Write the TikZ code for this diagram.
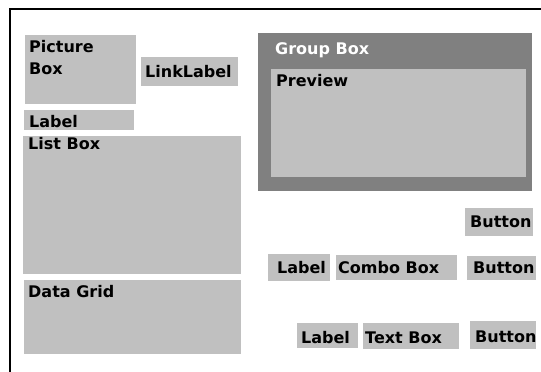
\documentclass[tikz,border=0pt]{standalone}
\usepackage{fontspec}
\setmainfont{DejaVu Sans}
\definecolor{lgray}{HTML}{C0C0C0}
\definecolor{dgray}{HTML}{808080}
\begin{document}
\begin{tikzpicture}[x=1pt,y=-1pt,
  ctl/.style={fill=lgray,draw=none,inner sep=0pt,outer sep=0pt,anchor=north west},
  grp/.style={fill=dgray,draw=none,inner sep=0pt,outer sep=0pt,anchor=north west},
  txt/.style={inner sep=0pt,anchor=base west,font=\fontsize{16}{21}\selectfont\bfseries,align=left},
  wtxt/.style={txt,text=white}]
\useasboundingbox (0,0) rectangle (541,372);
\fill[white] (0,0) rectangle (541,372);
\draw[line width=2pt] (10,372) -- (10,9) -- (541,9);
% left column
\node[ctl,minimum width=111pt,minimum height=69pt] (picbox) at (25,35) {};
\node[txt] (picboxt) at (29,74) {Picture\\Box};
\node[ctl,minimum width=97pt,minimum height=29pt] (link) at (141,57) {};
\node[txt] (linkt) at (145,77) {LinkLabel};
\node[ctl,minimum width=110pt,minimum height=20pt] (lbl1) at (24,110) {};
\node[txt] (lbl1t) at (29,127) {Label};
\node[ctl,minimum width=218pt,minimum height=138pt] (list) at (23,136) {};
\node[txt] (listt) at (28,149) {List Box};
\node[ctl,minimum width=217pt,minimum height=74pt] (grid) at (24,280) {};
\node[txt] (gridt) at (28,297) {Data Grid};
% group box
\node[grp,minimum width=274pt,minimum height=158pt] (group) at (258,33) {};
\node[wtxt] (groupt) at (275,54) {Group Box};
\node[ctl,minimum width=255pt,minimum height=108pt] (prev) at (271,69) {};
\node[txt] (prevt) at (276,86) {Preview};
% right controls
\node[ctl,minimum width=68pt,minimum height=28pt] (btn1) at (465,208) {};
\node[txt] (btn1t) at (470,227) {Button};
\node[ctl,minimum width=62pt,minimum height=27pt] (lbl2) at (268,254) {};
\node[txt] (lbl2t) at (277,273) {Label};
\node[ctl,minimum width=121pt,minimum height=25pt] (combo) at (336,255) {};
\node[txt] (combot) at (338,273) {Combo Box};
\node[ctl,minimum width=69pt,minimum height=24pt] (btn2) at (467,256) {};
\node[txt] (btn2t) at (473,273) {Button};
\node[ctl,minimum width=61pt,minimum height=25pt] (lbl3) at (297,323) {};
\node[txt] (lbl3t) at (301,343) {Label};
\node[ctl,minimum width=96pt,minimum height=26pt] (tbox) at (363,323) {};
\node[txt] (tboxt) at (365,343) {Text Box};
\node[ctl,minimum width=66pt,minimum height=28pt] (btn3) at (470,321) {};
\node[txt] (btn3t) at (475,342) {Button};
\end{tikzpicture}
\end{document}
